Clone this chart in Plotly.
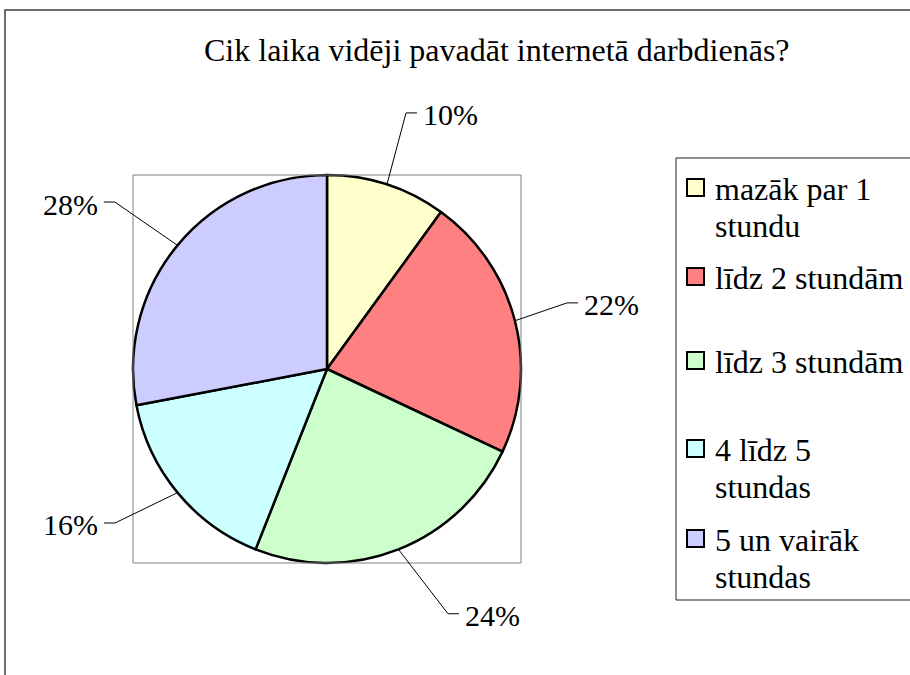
import math
import plotly.graph_objects as go

# ---- data ----
title = "Cik laika vidēji pavadāt internetā darbdienās?"
categories = ["mazāk par 1 stundu", "līdz 2 stundām", "līdz 3 stundām",
              "4 līdz 5 stundas", "5 un vairāk stundas"]
legend_lines = [["mazāk par 1", "stundu"], ["līdz 2 stundām"], ["līdz 3 stundām"],
                ["4 līdz 5", "stundas"], ["5 un vairāk", "stundas"]]
values = [10, 22, 24, 16, 28]

# ---- style ----
colors = ["#FFFFCC", "#FF8080", "#CCFFCC", "#CCFFFF", "#CCCCFF"]
W, H = 910, 675
cx, cy, R = 327, 369, 194
label_angle_shift = [-0.85, -1.0, -4.7, 3.6, -1.4]
label_radius = [268, 249, 273, 262, 270]
legend_item_y = [189, 278, 362, 450, 540]
legend_line_gap = 37
FONT = "Liberation Serif"


def px(x):
    return x / W


def py(y):
    return 1 - y / H


fig = go.Figure(go.Pie(
    labels=categories, values=values, sort=False, direction="clockwise",
    rotation=0, textinfo="none", hoverinfo="label+percent",
    marker=dict(colors=colors, line=dict(color="black", width=2.5)),
    domain=dict(x=[px(cx - R), px(cx + R)], y=[py(cy + R), py(cy - R)]),
    showlegend=False,
))

shapes = []
annotations = []

# outer chart frame
shapes.append(dict(type="rect", xref="paper", yref="paper", x0=px(5), x1=px(915),
                   y0=py(690), y1=py(10), line=dict(color="#404040", width=1.5)))
# plot area box
shapes.append(dict(type="rect", xref="paper", yref="paper", x0=px(cx - R), x1=px(cx + R),
                   y0=py(cy + R), y1=py(cy - R), line=dict(color="#808080", width=1)))

# data labels with leader lines
total = sum(values)
cum = 0
for i, v in enumerate(values):
    mid = (cum + v / 2) / total * 360
    cum += v
    t = math.radians(mid)
    ex, ey = cx + R * math.sin(t), cy - R * math.cos(t)
    ta = math.radians(mid + label_angle_shift[i])
    bx = cx + label_radius[i] * math.sin(ta)
    by = cy - label_radius[i] * math.cos(ta)
    side = 1 if math.sin(t) > 0 else -1
    hx = bx + side * 11
    shapes.append(dict(type="path", xref="paper", yref="paper",
                       path=f"M {px(ex)},{py(ey)} L {px(bx)},{py(by)} L {px(hx)},{py(by)}",
                       line=dict(color="black", width=1)))
    pct = round(v / total * 100)
    annotations.append(dict(x=px(hx + side * 4), y=py(by + 2), xref="paper", yref="paper",
                            text=f"{pct}%", showarrow=False,
                            xanchor="left" if side > 0 else "right", yanchor="middle",
                            font=dict(family=FONT, size=30, color="black")))

# title
annotations.append(dict(x=px(497), y=py(50), xref="paper", yref="paper", text=title,
                        showarrow=False, xanchor="center", yanchor="middle",
                        font=dict(family=FONT, size=32, color="black")))

# legend (drawn manually to match Excel layout)
shapes.append(dict(type="rect", xref="paper", yref="paper", x0=px(676), x1=px(915),
                   y0=py(600), y1=py(158), line=dict(color="#202020", width=1)))
for i, lines in enumerate(legend_lines):
    y0 = legend_item_y[i]
    shapes.append(dict(type="rect", xref="paper", yref="paper",
                       x0=px(687), x1=px(704), y0=py(y0 + 7), y1=py(y0 - 10),
                       fillcolor=colors[i], line=dict(color="black", width=2)))
    for j, ln in enumerate(lines):
        annotations.append(dict(x=px(713), y=py(y0 + j * legend_line_gap), xref="paper",
                                yref="paper", text=ln, showarrow=False,
                                xanchor="left", yanchor="middle",
                                font=dict(family=FONT, size=32, color="black")))

fig.update_layout(
    width=W, height=H, margin=dict(l=0, r=0, t=0, b=0),
    paper_bgcolor="white", plot_bgcolor="white",
    font=dict(family=FONT),
    shapes=shapes, annotations=annotations,
)

fig.write_html("out.html", config={"displayModeBar": False},
               post_script="document.body.style.margin='0';")
